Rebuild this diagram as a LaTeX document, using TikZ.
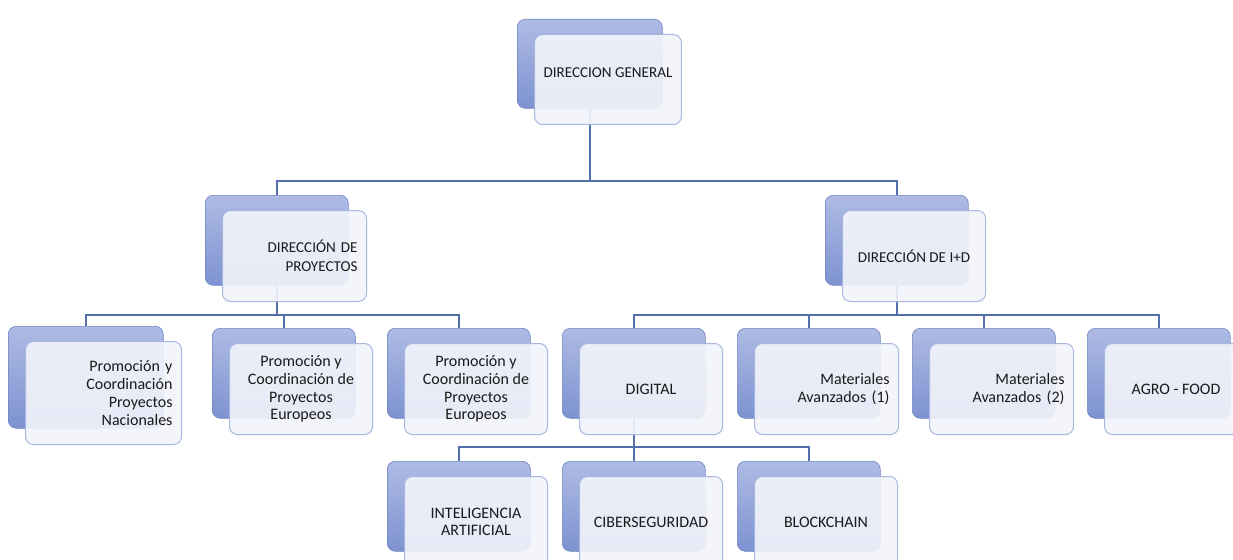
\documentclass[tikz,border=0pt]{standalone}
\usepackage{fontspec}
\setmainfont{Carlito}
\definecolor{linec}{HTML}{5470AC}
\definecolor{backtop}{HTML}{AEBBE4}
\definecolor{backbot}{HTML}{7D92D0}
\definecolor{backdraw}{HTML}{6F84C0}
\definecolor{frontfill}{HTML}{F3F5FB}
\definecolor{frontdraw}{HTML}{A7B7DF}
\definecolor{txt}{HTML}{1A1A1A}
\tikzset{
  backbox/.style={anchor=north west, rectangle, rounded corners=8pt, draw=backdraw, line width=0.6pt,
    top color=backtop, bottom color=backbot, inner sep=0pt},
  frontbox/.style={anchor=north west, rectangle, rounded corners=8pt, draw=frontdraw, line width=1pt,
    fill=frontfill, fill opacity=0.9, text opacity=1, text=txt, inner xsep=9pt, inner ysep=0pt,
    align=center, font=\fontsize{16}{17.7}\selectfont},
  toplevel/.style={font=\fontsize{15.1}{18.8}\selectfont},
  conn/.style={draw=linec, line width=1.4pt},
}
\newcommand\orgpair[7][]{%
  \node[backbox, minimum width=#5pt, minimum height=#6pt] (#2b) at (#3,#4) {};
  \node[frontbox, minimum width=#5pt, minimum height=#6pt+1pt, #1] (#2) at ([xshift=17pt,yshift=-15pt]#2b.north west) {#7};}
\begin{document}
\begin{tikzpicture}[x=1pt,y=-1pt]
\useasboundingbox[fill=white] (0,0) rectangle (1233,559);
\coordinate (bar1) at (0,181);
\coordinate (bar2) at (0,315);
\coordinate (bar3) at (0,447);
% invisible placeholders of the back boxes, for the connectors drawn behind
\begin{scope}[opacity=0]
\node[backbox, minimum width=145pt, minimum height=89pt] (dgx) at (517,19) {};
\node[backbox, minimum width=143pt, minimum height=90pt] (dpx) at (205,195) {};
\node[backbox, minimum width=143pt, minimum height=90pt] (dix) at (825,195) {};
\node[backbox, minimum width=155pt, minimum height=102pt] (pnx) at (8,326) {};
\node[backbox, minimum width=143pt, minimum height=90pt] (pe1x) at (212,328) {};
\node[backbox, minimum width=143pt, minimum height=90pt] (pe2x) at (387,328) {};
\node[backbox, minimum width=143pt, minimum height=90pt] (digx) at (562,328) {};
\node[backbox, minimum width=143pt, minimum height=90pt] (m1x) at (737,328) {};
\node[backbox, minimum width=143pt, minimum height=90pt] (m2x) at (912,328) {};
\node[backbox, minimum width=143pt, minimum height=90pt] (afx) at (1087,328) {};
\node[backbox, minimum width=143pt, minimum height=90pt] (iax) at (387,461) {};
\node[backbox, minimum width=143pt, minimum height=90pt] (csx) at (562,461) {};
\node[backbox, minimum width=143pt, minimum height=90pt] (bcx) at (737,461) {};
\end{scope}
\draw[conn] (dgx.south) -- (dgx.south |- bar1) -| (dpx.north);
\draw[conn] (dgx.south |- bar1) -| (dix.north);
\draw[conn] (dpx.south) -- (dpx.south |- bar2) -| (pnx.north);
\draw[conn] (dpx.south |- bar2) -| (pe1x.north);
\draw[conn] (dpx.south |- bar2) -| (pe2x.north);
\draw[conn] (dix.south) -- (dix.south |- bar2) -| (digx.north);
\draw[conn] (dix.south |- bar2) -| (m1x.north);
\draw[conn] (dix.south |- bar2) -| (m2x.north);
\draw[conn] (dix.south |- bar2) -| (afx.north);
\draw[conn] (digx.south) -- (digx.south |- bar3) -| (iax.north);
\draw[conn] (digx.south |- bar3) -| (csx.north);
\draw[conn] (digx.south |- bar3) -| (bcx.north);
% visible boxes
\orgpair[toplevel, text depth=14pt]{dg}{517}{19}{145}{89}{DIRECCION GENERAL}
\orgpair[toplevel, align=right, text width=126pt]{dp}{205}{195}{143}{90}{DIRECCIÓN DE\\PROYECTOS}
\orgpair[toplevel]{di}{825}{195}{143}{90}{DIRECCIÓN DE I+D}
\orgpair[align=right, text width=138pt]{pn}{8}{326}{155}{102}{Promoción y\\Coordinación\\Proyectos\\Nacionales}
\orgpair{pe1}{212}{328}{143}{90}{Promoción y\\Coordinación de\\Proyectos\\Europeos}
\orgpair{pe2}{387}{328}{143}{90}{Promoción y\\Coordinación de\\Proyectos\\Europeos}
\orgpair{dig}{562}{328}{143}{90}{DIGITAL}
\orgpair[align=right, text width=126pt]{m1}{737}{328}{143}{90}{Materiales\\Avanzados (1)}
\orgpair[align=right, text width=126pt]{m2}{912}{328}{143}{90}{Materiales\\Avanzados (2)}
\orgpair{af}{1087}{328}{143}{90}{AGRO - FOOD}
\orgpair{ia}{387}{461}{143}{90}{INTELIGENCIA\\ARTIFICIAL}
\orgpair{cs}{562}{461}{143}{90}{CIBERSEGURIDAD}
\orgpair{bc}{737}{461}{143}{90}{BLOCKCHAIN}
\end{tikzpicture}
\end{document}
